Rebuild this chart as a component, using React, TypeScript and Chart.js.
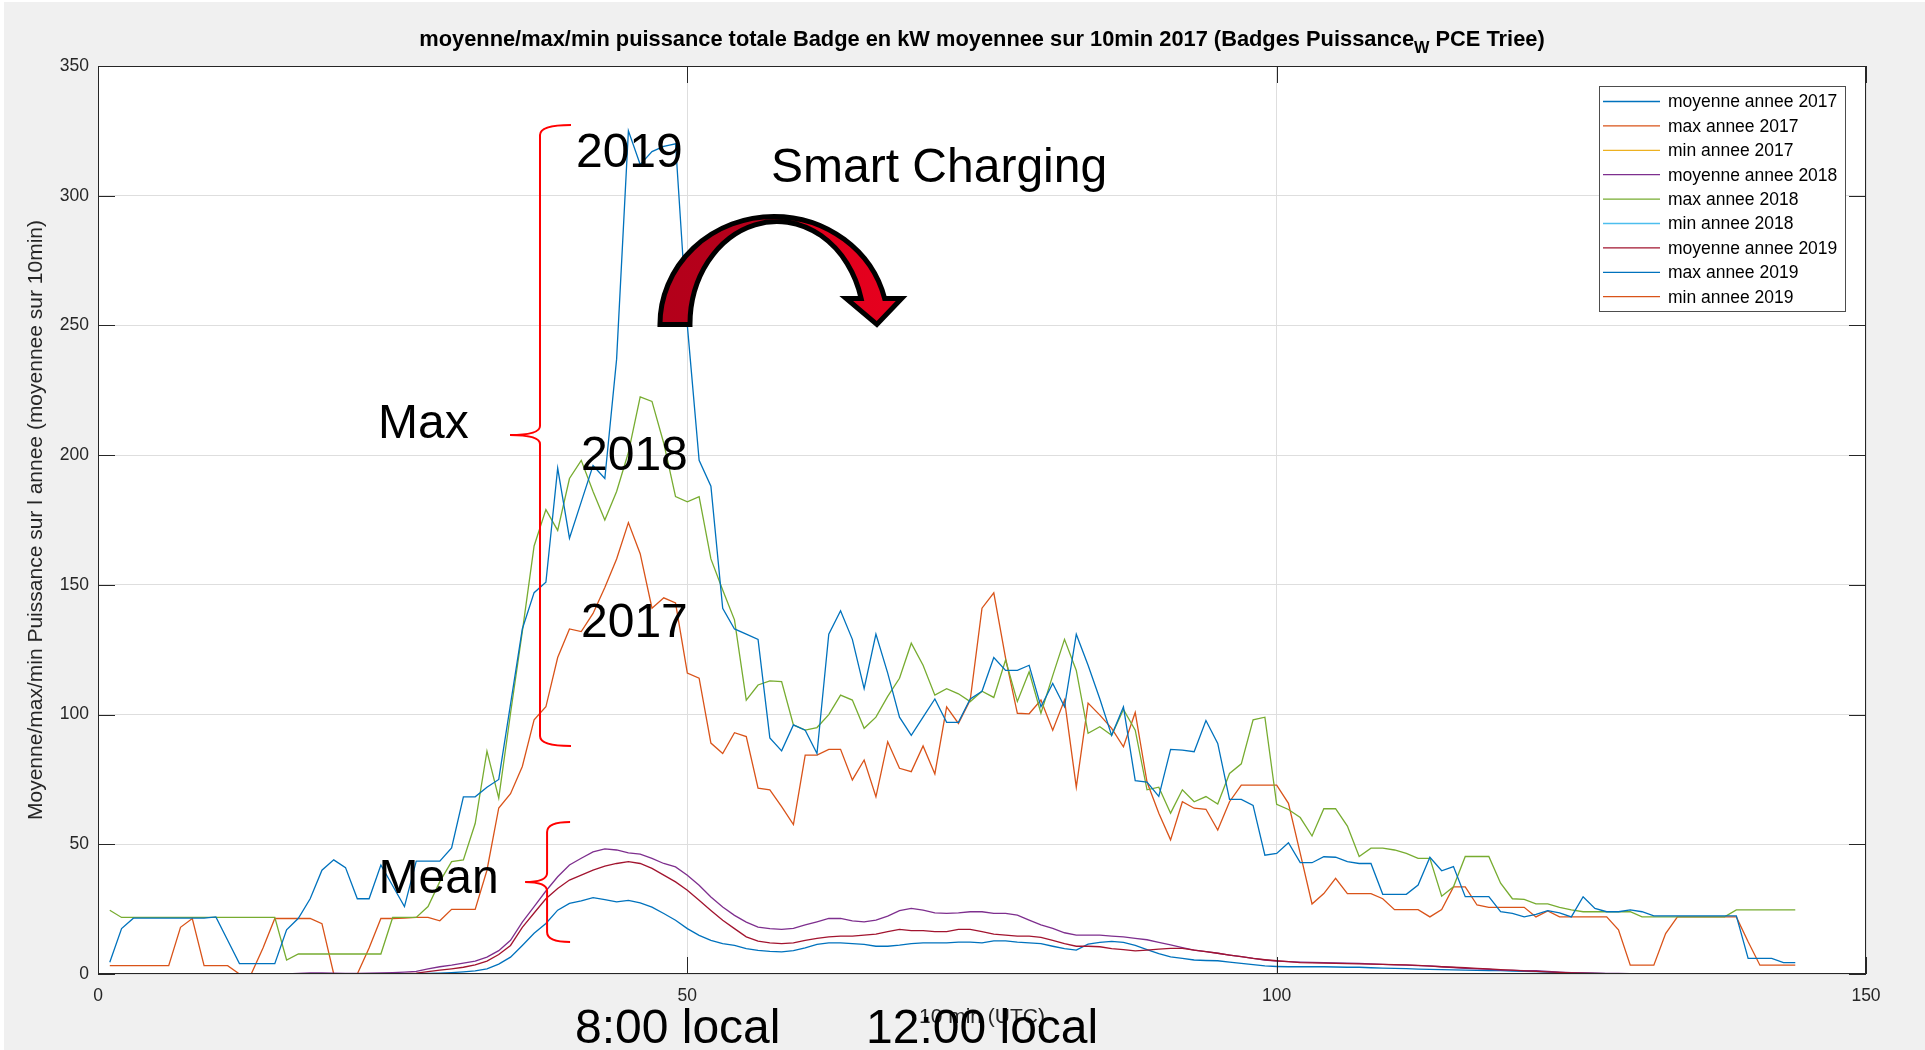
import React, { useEffect, useRef } from "react";
import { Chart, registerables } from "chart.js";

Chart.register(...registerables);

const FONT = '"Liberation Sans", Arial, Helvetica, sans-serif';

// x axis: 10-minute slot index (1..144)
const timeIndex = Array.from({ length: 144 }, (_, i) => i + 1);

const xTickValues = [0, 50, 100, 150];
const yTickValues = [0, 50, 100, 150, 200, 250, 300, 350];

const chartTitleMain =
  "moyenne/max/min puissance totale Badge en kW moyennee sur 10min 2017 (Badges Puissance";
const chartTitleSub = "W";
const chartTitleEnd = " PCE Triee)";
const yAxisTitle = "Moyenne/max/min Puissance sur l annee (moyennee sur 10min)";
const xAxisTitle = "10 min (UTC)";

const seriesLabels = [
  "moyenne annee 2017",
  "max annee 2017",
  "min annee 2017",
  "moyenne annee 2018",
  "max annee 2018",
  "min annee 2018",
  "moyenne annee 2019",
  "max annee 2019",
  "min annee 2019",
];

const seriesColors = [
  "#0072BD",
  "#D95319",
  "#EDB120",
  "#7E2F8E",
  "#77AC30",
  "#4DBEEE",
  "#A2142F",
  "#0072BD",
  "#D95319",
];

const moyenne2017 = [
  0, 0, 0, 0, 0, 0, 0, 0, 0, 0,
  0, 0, 0, 0, 0, 0, 0, 0, 0, 0,
  0, 0, 0, 0, 0, 0, 0.1, 0.2, 0.3, 0.5,
  0.8, 1.2, 2, 3.8, 6.5, 11, 15.7, 19.5, 24.6, 27.2,
  28.2, 29.4, 28.7, 27.8, 28.4, 27.4, 25.8, 23.3, 20.7, 17.5,
  14.9, 13, 11.7, 11, 9.8, 9.1, 8.7, 8.5, 9, 10.1,
  11.4, 12, 12, 11.7, 11.4, 10.7, 10.7, 11.1, 11.7, 12,
  12, 12, 12.3, 12.3, 12, 12.8, 12.8, 12.3, 12, 11.7,
  10.7, 9.8, 9.2, 11.5, 12.2, 12.6, 12.2, 11, 9.4, 7.9,
  6.6, 6, 5.4, 5.2, 5.1, 4.6, 4.1, 3.6, 3.1, 2.9,
  2.8, 2.8, 2.8, 2.8, 2.7, 2.6, 2.6, 2.4, 2.3, 2.2,
  2.1, 1.9, 1.8, 1.7, 1.6, 1.5, 1.4, 1.3, 1.3, 1.1,
  1, 0.9, 0.7, 0.5, 0.4, 0.3, 0.2, 0.1, 0.1, 0.1,
  0.1, 0.1, 0.1, 0.1, 0.1, 0.1, 0.1, 0.1, 0.1, 0.1,
  0.1, 0.1, 0.1, 0.1,
];

const max2017 = [
  3.2, 3.2, 3.2, 3.2, 3.2, 3.2, 18, 21.4, 3.2, 3.2,
  3.2, 0, 0, 10, 21.4, 21.4, 21.4, 21.4, 19.4, 0,
  0, 0, 10, 21.4, 21.4, 21.5, 21.8, 21.8, 20.5, 24.9,
  24.9, 24.9, 40, 64, 69.5, 80, 98, 103, 122, 133,
  132, 139, 149, 160, 174, 162, 141, 145, 143, 116,
  114, 89, 85, 93, 91.5, 71.6, 71, 64.5, 57.6, 84.4,
  84.4, 86.6, 86.6, 74.8, 82.5, 68.3, 89.5, 79.3, 78, 87.9,
  77.1, 103, 96.6, 105.6, 141, 146.9, 121.8, 100.5, 100.3, 105.6,
  94, 105.6, 72, 104.4, 99.8, 94.7, 87.6, 100.8, 74, 62,
  51.7, 66.4, 63.9, 63.5, 55.5, 66.4, 72.8, 72.8, 72.8, 72.8,
  65.8, 46.5, 27, 31, 36.9, 31, 31, 31, 29, 24.8,
  24.8, 24.8, 22, 24.8, 33.6, 33.6, 26.6, 25.7, 25.7, 25.7,
  25.7, 22, 24.3, 22, 22, 22, 22, 22, 17, 3.4,
  3.4, 3.4, 15.6, 22, 22, 22, 22, 22, 22, 12.4,
  3.4, 3.4, 3.4, 3.4,
];

const min2017 = [
  0, 0, 0, 0, 0, 0, 0, 0, 0, 0, 0, 0, 0, 0, 0, 0, 0, 0, 0, 0, 0, 0, 0, 0,
  0, 0, 0, 0, 0, 0, 0, 0, 0, 0, 0, 0, 0, 0, 0, 0, 0, 0, 0, 0, 0, 0, 0, 0,
  0, 0, 0, 0, 0, 0, 0, 0, 0, 0, 0, 0, 0, 0, 0, 0, 0, 0, 0, 0, 0, 0, 0, 0,
  0, 0, 0, 0, 0, 0, 0, 0, 0, 0, 0, 0, 0, 0, 0, 0, 0, 0, 0, 0, 0, 0, 0, 0,
  0, 0, 0, 0, 0, 0, 0, 0, 0, 0, 0, 0, 0, 0, 0, 0, 0, 0, 0, 0, 0, 0, 0, 0,
  0, 0, 0, 0, 0, 0, 0, 0, 0, 0, 0, 0, 0, 0, 0, 0, 0, 0, 0, 0, 0, 0, 0, 0,
];

const moyenne2018 = [
  0, 0, 0, 0, 0, 0, 0, 0, 0, 0,
  0, 0, 0, 0, 0, 0, 0.2, 0.4, 0.4, 0.3,
  0.2, 0.2, 0.3, 0.4, 0.5, 0.7, 1, 2, 2.8, 3.4,
  4.2, 5, 6.5, 9, 13, 20, 26, 32, 37.5, 42,
  44.6, 47.1, 48.2, 47.8, 46.7, 46.2, 44.6, 42.6, 41.3, 38.1,
  34.2, 29.7, 25.8, 22.6, 20, 18.1, 17.5, 17.2, 17.6, 18.9,
  20.1, 21.4, 21.4, 20.5, 20.1, 20.8, 22.3, 24.4, 25.3, 24.6,
  23.6, 23.4, 23.6, 24, 24, 23.4, 23.4, 22.7, 20.8, 18.9,
  17.6, 15.9, 15, 15, 15, 14.6, 14.3, 13.7, 13.2, 12.2,
  11.2, 10.2, 9.2, 8.6, 8, 7.3, 6.7, 6, 5.4, 5,
  4.8, 4.6, 4.5, 4.4, 4.3, 4.2, 4.1, 3.9, 3.7, 3.5,
  3.4, 3.2, 3.1, 2.8, 2.5, 2.2, 2, 1.8, 1.5, 1.4,
  1.3, 1.3, 1, 0.7, 0.5, 0.4, 0.3, 0.2, 0.2, 0.1,
  0.1, 0.1, 0.1, 0.1, 0.1, 0.1, 0.1, 0.1, 0.1, 0.1,
  0.1, 0.1, 0.1, 0.1,
];

const max2018 = [
  24.6, 21.8, 21.8, 21.8, 21.8, 21.8, 21.8, 21.8, 21.8, 21.8,
  21.8, 21.8, 21.8, 21.8, 21.8, 5.4, 7.7, 7.7, 7.7, 7.7,
  7.7, 7.7, 7.7, 7.7, 21.8, 21.8, 21.8, 26, 35.6, 43.3,
  44, 58, 85.9, 67.8, 100.5, 132, 165, 179, 171, 191,
  198, 186, 175, 186, 201, 222.5, 220.7, 204.6, 184, 182,
  184, 160, 148, 136.5, 105.6, 111.4, 113, 112.7, 96, 94,
  95, 100, 107.5, 105.6, 94.7, 99, 107, 114, 127.5, 119,
  107.5, 110, 108, 105, 109, 106.6, 121, 105, 116.5, 100.5,
  115, 129, 117, 92.8, 95.3, 92, 102, 94, 71, 72,
  62, 71, 66.4, 68.4, 65.5, 77.3, 81, 98, 99, 65.4,
  63.4, 60.3, 53.2, 63.7, 63.7, 57, 45.3, 48.5, 48.5, 47.8,
  46.5, 44.6, 44.6, 30, 33.6, 45.3, 45.3, 45.3, 35, 29,
  28.8, 27, 27, 25.7, 24.7, 24, 24, 24, 24, 24,
  22, 22, 22, 22, 22, 22, 22, 22, 24.7, 24.7,
  24.7, 24.7, 24.7, 24.7,
];

const min2018 = [
  0, 0, 0, 0, 0, 0, 0, 0, 0, 0, 0, 0, 0, 0, 0, 0, 0, 0, 0, 0, 0, 0, 0, 0,
  0, 0, 0, 0, 0, 0, 0, 0, 0, 0, 0, 0, 0, 0, 0, 0, 0, 0, 0, 0, 0, 0, 0, 0,
  0, 0, 0, 0, 0, 0, 0, 0, 0, 0, 0, 0, 0, 0, 0, 0, 0, 0, 0, 0, 0, 0, 0, 0,
  0, 0, 0, 0, 0, 0, 0, 0, 0, 0, 0, 0, 0, 0, 0, 0, 0, 0, 0, 0, 0, 0, 0, 0,
  0, 0, 0, 0, 0, 0, 0, 0, 0, 0, 0, 0, 0, 0, 0, 0, 0, 0, 0, 0, 0, 0, 0, 0,
  0, 0, 0, 0, 0, 0, 0, 0, 0, 0, 0, 0, 0, 0, 0, 0, 0, 0, 0, 0, 0, 0, 0, 0,
];

const moyenne2019 = [
  0, 0, 0, 0, 0, 0, 0, 0, 0, 0,
  0, 0, 0, 0, 0, 0, 0, 0, 0, 0,
  0, 0, 0, 0, 0, 0.1, 0.3, 0.9, 1.5, 2,
  2.6, 3.5, 5, 7.5, 11, 18, 23.5, 29, 33, 36.2,
  38.1, 40, 41.6, 42.6, 43.3, 42.6, 40.7, 38.1, 35.5, 32.3,
  28.4, 24.5, 20.7, 17.5, 14.3, 12.7, 12, 11.7, 12, 13,
  13.7, 14.3, 14.6, 14.6, 15, 15.4, 16.3, 17.2, 16.7, 16.7,
  16.3, 16.3, 17.2, 17.2, 16.3, 15.4, 15, 14.6, 14.6, 14.1,
  13, 11.7, 10.7, 10.7, 10.5, 9.8, 9.4, 8.9, 9.2, 9.6,
  9.9, 9.9, 9.2, 8.6, 8, 7.3, 6.7, 6, 5.5, 5.1,
  4.8, 4.4, 4.3, 4.2, 4.1, 4, 3.9, 3.8, 3.7, 3.6,
  3.5, 3.3, 3, 2.8, 2.6, 2.4, 2.2, 2, 1.7, 1.5,
  1.2, 1, 0.8, 0.6, 0.4, 0.3, 0.2, 0.1, 0.1, 0.1,
  0.1, 0.1, 0.1, 0.1, 0.1, 0.1, 0.1, 0.1, 0.1, 0.1,
  0.1, 0.1, 0.1, 0.1,
];

const max2019 = [
  4.5, 17.5, 21.5, 21.5, 21.5, 21.5, 21.5, 21.5, 21.5, 22,
  13, 4, 4, 4, 4, 17, 21.5, 29, 40, 44,
  41, 29, 29, 42, 34, 26, 43.5, 43.5, 43.5, 48.6,
  68.3, 68.3, 72, 75, 104, 133, 147, 151, 195, 168,
  182, 196, 191, 237, 325, 312, 317, 319, 320, 250,
  198, 188, 141, 133, 131, 129, 91, 86, 96, 94,
  85, 131, 140, 129, 110, 131, 116, 99, 92, 99,
  106, 97, 97, 106, 109, 122, 117, 117, 119, 103,
  112, 103, 131, 119, 106, 92, 103, 74.5, 74, 68.5,
  86.6, 86.3, 85.7, 97.7, 88.9, 67.3, 67.3, 65, 45.8, 46.5,
  50.6, 42.9, 42.9, 45.2, 45, 43.3, 42.6, 42.6, 30.7, 30.7,
  30.7, 34.3, 45, 39.8, 41.4, 29.8, 29.8, 29.8, 24, 23.4,
  22, 23, 24.4, 23.6, 22, 29.8, 25.3, 24, 24, 24.7,
  24, 22.4, 22.4, 22.4, 22.4, 22.4, 22.4, 22.4, 22.4, 6,
  6, 6, 4.4, 4.4,
];

const min2019 = [
  0, 0, 0, 0, 0, 0, 0, 0, 0, 0, 0, 0, 0, 0, 0, 0, 0, 0, 0, 0, 0, 0, 0, 0,
  0, 0, 0, 0, 0, 0, 0, 0, 0, 0, 0, 0, 0, 0, 0, 0, 0, 0, 0, 0, 0, 0, 0, 0,
  0, 0, 0, 0, 0, 0, 0, 0, 0, 0, 0, 0, 0, 0, 0, 0, 0, 0, 0, 0, 0, 0, 0, 0,
  0, 0, 0, 0, 0, 0, 0, 0, 0, 0, 0, 0, 0, 0, 0, 0, 0, 0, 0, 0, 0, 0, 0, 0,
  0, 0, 0, 0, 0, 0, 0, 0, 0, 0, 0, 0, 0, 0, 0, 0, 0, 0, 0, 0, 0, 0, 0, 0,
  0, 0, 0, 0, 0, 0, 0, 0, 0, 0, 0, 0, 0, 0, 0, 0, 0, 0, 0, 0, 0, 0, 0, 0,
];

const seriesValues = [
  moyenne2017, max2017, min2017,
  moyenne2018, max2018, min2018,
  moyenne2019, max2019, min2019,
];

// Annotation texts, anchored in data units (x: 10-min slot, y: kW)
const annotationTexts = [
  { text: "2019", x: 40.55, y: 311.1 },
  { text: "Smart Charging", x: 57.1, y: 305.3 },
  { text: "Max", x: 23.76, y: 206.5 },
  { text: "2018", x: 40.98, y: 194.3 },
  { text: "2017", x: 40.98, y: 130.0 },
  { text: "Mean", x: 23.8, y: 31.2 },
  { text: "8:00 local", x: 40.47, y: -26.6 },
  { text: "12:00 local", x: 65.16, y: -26.6 },
];

function drawBrace(ctx: CanvasRenderingContext2D, x: number, yTop: number, yTip: number, yBottom: number, tipDx: number, curlDx: number) {
  const r = 10;
  ctx.beginPath();
  ctx.moveTo(x + curlDx, yTop);
  ctx.quadraticCurveTo(x, yTop, x, yTop + r);
  ctx.lineTo(x, yTip - 9);
  ctx.quadraticCurveTo(x, yTip, x - tipDx, yTip);
  ctx.quadraticCurveTo(x, yTip, x, yTip + 9);
  ctx.lineTo(x, yBottom - r);
  ctx.quadraticCurveTo(x, yBottom, x + curlDx, yBottom);
  ctx.stroke();
}

function drawCurvedArrow(ctx: CanvasRenderingContext2D, ax: number, baseY: number) {
  // outer ellipse
  const ocx = ax, orx = 114, ory = 108;
  // inner ellipse
  const icx = ax + 3, irx = 87, iry = 103;
  const headRise = 26; // head base height above baseline
  const aOut = Math.asin(headRise / ory);
  const aIn = Math.asin(headRise / iry);
  const outEndX = ocx + orx * Math.cos(aOut);
  const inEndX = icx + irx * Math.cos(aIn);
  const headY = baseY - headRise;
  const headL = inEndX - 15;
  const headR = outEndX + 17;
  const tipX = (inEndX + outEndX) / 2 + 4;
  const tipY = baseY;

  ctx.beginPath();
  ctx.moveTo(ocx - orx, baseY);
  ctx.ellipse(ocx, baseY, orx, ory, 0, Math.PI, 2 * Math.PI - aOut, false);
  ctx.lineTo(headR, headY);
  ctx.lineTo(tipX, tipY);
  ctx.lineTo(headL, headY);
  ctx.lineTo(inEndX, headY);
  ctx.ellipse(icx, baseY, irx, iry, 0, 2 * Math.PI - aIn, Math.PI, true);
  ctx.closePath();
  const grad = ctx.createLinearGradient(ocx - orx, 0, headR, 0);
  grad.addColorStop(0, "#b3001a");
  grad.addColorStop(0.42, "#b8001b");
  grad.addColorStop(0.58, "#e0001c");
  grad.addColorStop(1, "#e6001e");
  ctx.fillStyle = grad;
  ctx.fill();
  ctx.strokeStyle = "#000000";
  ctx.lineWidth = 5;
  ctx.lineJoin = "miter";
  ctx.stroke();
}

const matlabPlugin = {
  id: "matlabLook",
  beforeDraw(chart: any) {
    const { ctx, chartArea: a, width, height } = chart;
    ctx.save();
    ctx.fillStyle = "#ffffff";
    ctx.fillRect(0, 0, width, height);
    ctx.fillStyle = "#f0f0f0";
    ctx.fillRect(4, 2, width - 4, height - 2);
    ctx.fillStyle = "#ffffff";
    ctx.fillRect(a.left, a.top, a.right - a.left, a.bottom - a.top);
    ctx.restore();
  },
  afterDatasetsDraw(chart: any) {
    const { ctx, chartArea: a } = chart;
    const xs = chart.scales.x;
    const ys = chart.scales.y;
    const tl = 17;
    ctx.save();
    ctx.strokeStyle = "#262626";
    ctx.lineWidth = 1;
    ctx.strokeRect(a.left + 0.5, a.top + 0.5, a.right - a.left - 1, a.bottom - a.top - 1);
    ctx.beginPath();
    xs.ticks.forEach((t: any) => {
      const p = Math.round(xs.getPixelForValue(t.value)) + 0.5;
      ctx.moveTo(p, a.bottom);
      ctx.lineTo(p, a.bottom - tl);
      ctx.moveTo(p, a.top);
      ctx.lineTo(p, a.top + tl);
    });
    ys.ticks.forEach((t: any) => {
      const p = Math.round(ys.getPixelForValue(t.value)) + 0.5;
      ctx.moveTo(a.left, p);
      ctx.lineTo(a.left + tl, p);
      ctx.moveTo(a.right, p);
      ctx.lineTo(a.right - tl, p);
    });
    ctx.stroke();
    ctx.restore();
  },
  afterDraw(chart: any) {
    const { ctx, chartArea: a } = chart;
    const xs = chart.scales.x;
    const ys = chart.scales.y;
    const px = (v: number) => xs.getPixelForValue(v);
    const py = (v: number) => ys.getPixelForValue(v);
    ctx.save();

    // Title with subscript
    const cx = (a.left + a.right) / 2;
    const baseSize = 19;
    ctx.font = `bold ${baseSize}px ${FONT}`;
    let w1 = ctx.measureText(chartTitleMain).width;
    let w3 = ctx.measureText(chartTitleEnd).width;
    ctx.font = `bold ${baseSize * 0.75}px ${FONT}`;
    let w2 = ctx.measureText(chartTitleSub).width;
    const fit = 1126 / (w1 + w2 + w3);
    const fs = baseSize * fit;
    ctx.font = `bold ${fs}px ${FONT}`;
    w1 = ctx.measureText(chartTitleMain).width;
    w3 = ctx.measureText(chartTitleEnd).width;
    ctx.font = `bold ${fs * 0.75}px ${FONT}`;
    w2 = ctx.measureText(chartTitleSub).width;
    const total = w1 + w2 + w3;
    let tx = cx - total / 2;
    const tb = 46;
    ctx.fillStyle = "#000000";
    ctx.textAlign = "left";
    ctx.textBaseline = "alphabetic";
    ctx.font = `bold ${fs}px ${FONT}`;
    ctx.fillText(chartTitleMain, tx, tb);
    tx += w1;
    ctx.font = `bold ${fs * 0.75}px ${FONT}`;
    ctx.fillText(chartTitleSub, tx, tb + 7);
    tx += w2;
    ctx.font = `bold ${fs}px ${FONT}`;
    ctx.fillText(chartTitleEnd, tx, tb);

    // Legend box
    const lx = 1599, ly = 86, lw = 246, lh = 225;
    ctx.fillStyle = "#ffffff";
    ctx.fillRect(lx, ly, lw, lh);
    ctx.strokeStyle = "#4d4d4d";
    ctx.lineWidth = 1;
    ctx.strokeRect(lx + 0.5, ly + 0.5, lw, lh);
    ctx.font = `17.5px ${FONT}`;
    ctx.textBaseline = "middle";
    chart.data.datasets.forEach((ds: any, i: number) => {
      const y = 101.5 + i * 24.4;
      ctx.strokeStyle = ds.borderColor;
      ctx.lineWidth = 1.3;
      ctx.beginPath();
      ctx.moveTo(1603, y);
      ctx.lineTo(1660, y);
      ctx.stroke();
      ctx.fillStyle = "#000000";
      ctx.fillText(ds.label, 1668, y + 1);
    });

    // Curved "smart charging" arrow (base sits on the 250 gridline)
    drawCurvedArrow(ctx, px(57.35), py(250) - 1);

    // Red braces
    ctx.strokeStyle = "#ff0000";
    ctx.lineWidth = 2;
    drawBrace(ctx, px(37.5), py(327.3), py(207.8), py(87.9), 30, 31);
    drawBrace(ctx, px(38.1), py(58.6), py(35.5), py(12.3), 22, 23);

    // Annotation texts
    ctx.fillStyle = "#000000";
    ctx.textBaseline = "alphabetic";
    ctx.textAlign = "left";
    ctx.font = `48px ${FONT}`;
    annotationTexts.forEach((t) => {
      ctx.fillText(t.text, px(t.x), py(t.y));
    });

    ctx.restore();
  },
};

export default function App() {
  const canvasRef = useRef<HTMLCanvasElement>(null);

  useEffect(() => {
    const canvas = canvasRef.current;
    if (!canvas) return;
    const datasets = seriesValues.map((vals, i) => ({
      label: seriesLabels[i],
      data: vals.map((v, k) => ({ x: timeIndex[k], y: v })),
      borderColor: seriesColors[i],
      backgroundColor: seriesColors[i],
      borderWidth: 1.3,
      pointRadius: 0,
      pointHoverRadius: 0,
      fill: false,
      tension: 0,
      order: seriesValues.length - 1 - i,
    }));

    const tickFont = { family: FONT, size: 17.5 };
    const chart = new Chart(canvas, {
      type: "line",
      data: { datasets },
      options: {
        animation: false,
        responsive: false,
        maintainAspectRatio: false,
        devicePixelRatio: 1,
        events: [],
        layout: { padding: { left: 0, top: 66, right: 59, bottom: 0 } },
        plugins: {
          legend: { display: false },
          tooltip: { enabled: false },
          title: { display: false },
        },
        scales: {
          x: {
            type: "linear",
            min: 0,
            max: 150,
            afterFit: (s: any) => {
              s.height = 76;
            },
            afterBuildTicks: (s: any) => {
              s.ticks = xTickValues.map((v) => ({ value: v }));
            },
            ticks: {
              font: tickFont,
              color: "#262626",
              padding: 12,
              maxRotation: 0,
              autoSkip: false,
            },
            grid: { color: "#dedede", lineWidth: 1, drawTicks: false },
            border: { display: false },
            title: {
              display: true,
              text: xAxisTitle,
              font: { family: FONT, size: 21 },
              color: "#262626",
              padding: { top: 0, bottom: 20 },
            },
          },
          y: {
            type: "linear",
            min: 0,
            max: 350,
            afterFit: (s: any) => {
              s.width = 98;
            },
            afterBuildTicks: (s: any) => {
              s.ticks = yTickValues.map((v) => ({ value: v }));
            },
            ticks: {
              font: tickFont,
              color: "#262626",
              padding: 9,
              autoSkip: false,
            },
            grid: { color: "#dedede", lineWidth: 1, drawTicks: false },
            border: { display: false },
            title: {
              display: true,
              text: yAxisTitle,
              font: { family: FONT, size: 21 },
              color: "#262626",
              padding: { top: 24, bottom: 0 },
            },
          },
        },
      },
      plugins: [matlabPlugin],
    } as any);

    return () => chart.destroy();
  }, []);

  return (
    <div
      style={{
        position: "fixed",
        left: 0,
        top: 0,
        width: 1925,
        height: 1050,
        background: "#f0f0f0",
        overflow: "hidden",
      }}
    >
      <canvas
        ref={canvasRef}
        width={1925}
        height={1050}
        style={{ display: "block", width: 1925, height: 1050 }}
      />
    </div>
  );
}
